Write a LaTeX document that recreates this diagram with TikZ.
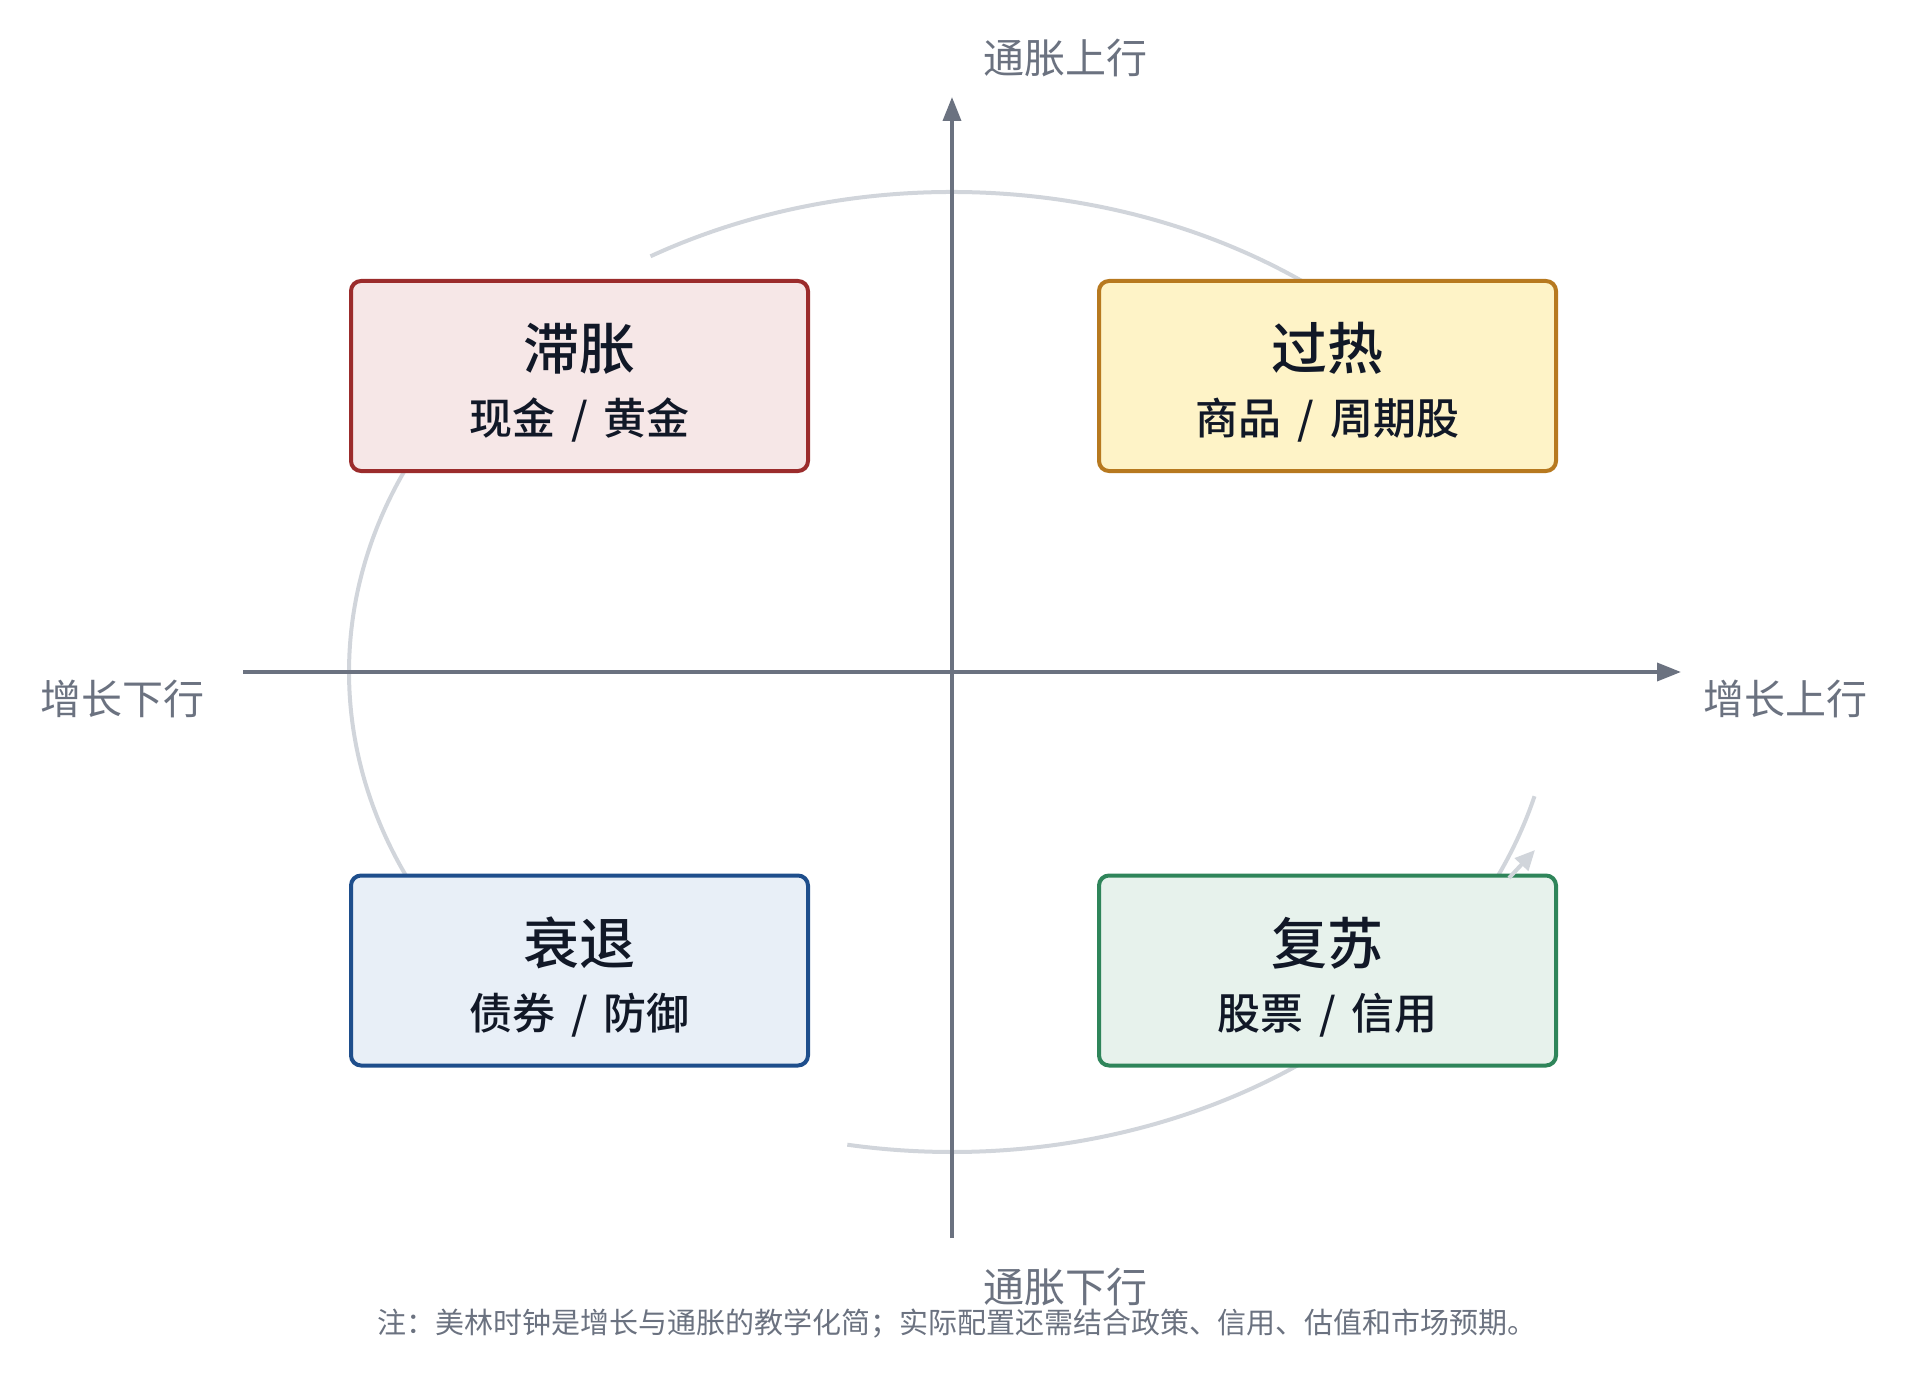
\documentclass[tikz,border=0pt]{standalone}
\usepackage{fontspec}
\setmainfont{Noto Sans CJK SC}
\newfontfamily\midfont{Noto Sans CJK SC Medium}
\usetikzlibrary{arrows.meta}
\definecolor{axisgray}{HTML}{6B7280}
\definecolor{arcgray}{HTML}{D1D5DB}
\definecolor{inkdark}{HTML}{111827}
\definecolor{stagred}{HTML}{9B2C2C}
\definecolor{stagfill}{HTML}{F6E7E7}
\definecolor{hotorange}{HTML}{B7791F}
\definecolor{hotfill}{HTML}{FEF3C7}
\definecolor{recblue}{HTML}{1E4E8C}
\definecolor{recfill}{HTML}{E8EFF7}
\definecolor{upgreen}{HTML}{2F855A}
\definecolor{upfill}{HTML}{E7F2EC}
\tikzset{
  phase/.style={draw,line width=2pt,rounded corners=5pt,minimum width=228.5pt,minimum height=95pt,align=center,text=inkdark},
  axislabel/.style={text=axisgray,font=\fontsize{20.5}{24}\selectfont},
  arcline/.style={arcgray,line width=2pt}
}
\newcommand{\phasetext}[3]{{\fontsize{28}{32}\selectfont\midfont\rule{0pt}{30pt}#1}\\[11pt]{\fontsize{21.5}{25}\selectfont\midfont #2\hspace{8pt}/\hspace{8pt}#3}}
\begin{document}
\begin{tikzpicture}[x=0.5pt,y=0.5pt,>={Triangle[length=12pt,width=9pt]}]
            \useasboundingbox (0,0) rectangle (1907,-1375);
            % 周期弧线
            \draw[arcline] (650.5,-256.3) arc[start angle=120,end angle=40,x radius=301.5pt,y radius=240pt];
            \draw[arcline] (429.8,-432) arc[start angle=150,end angle=210,x radius=301.5pt,y radius=240pt];
            \draw[arcline] (847.3,-1144.7) arc[start angle=260,end angle=320,x radius=301.5pt,y radius=240pt];
            \draw[arcline] (1534.5,-796.2) arc[start angle=-15,end angle=-35,x radius=301.5pt,y radius=240pt];
            % 坐标轴
            \coordinate (xl) at (243,-672);
            \coordinate (xr) at (1681,-672);
            \coordinate (yb) at (952,-1238);
            \coordinate (yt) at (952,-97);
            \draw[->,axisgray,line width=1.8pt] (xl) -- (xr);
            \draw[->,axisgray,line width=1.8pt] (yb) -- (yt);
            \node[axislabel] (up) at (1065,-58) {通胀上行};
            \node[axislabel] (down) at (1065,-1287) {通胀下行};
            \node[axislabel] (left) at (122,-699) {增长下行};
            \node[axislabel] (right) at (1785,-699) {增长上行};
            % 四个阶段
            \node[phase,fill=stagfill,draw=stagred] (stag) at (579.5,-376) {\phasetext{滞胀}{现金}{黄金}};
            \node[phase,fill=hotfill,draw=hotorange] (hot) at (1327.5,-376) {\phasetext{过热}{商品}{周期股}};
            \node[phase,fill=recfill,draw=recblue] (rec) at (579.5,-970.5) {\phasetext{衰退}{债券}{防御}};
            \node[phase,fill=upfill,draw=upgreen] (recov) at (1327.5,-970.5) {\phasetext{复苏}{股票}{信用}};
            \coordinate (arrs) at (1509,-878);
            \coordinate (arre) at (1535,-850);
            \draw[->,arcline,>={Triangle[length=10pt,width=9pt]}] (arrs) -- (arre);
            \node[text=axisgray,font=\fontsize{14.5}{17}\selectfont] (note) at (957,-1324) {注：美林时钟是增长与通胀的教学化简；实际配置还需结合政策、信用、估值和市场预期。};
        \end{tikzpicture}
\end{document}
